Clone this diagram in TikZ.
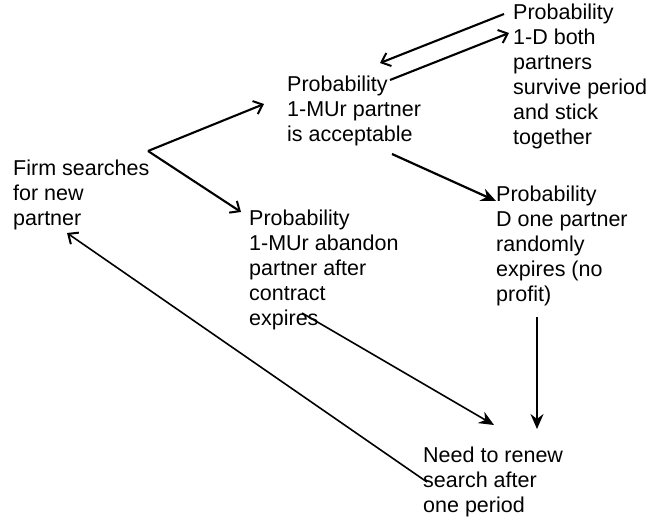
\documentclass[tikz,border=0pt]{standalone}
\usepackage{fontspec}
\setmainfont{Liberation Sans}
\usetikzlibrary{arrows.meta}
\begin{document}
\begin{tikzpicture}[x=1pt,y=-1pt,
  lbl/.style={anchor=north west,inner sep=0pt,align=left,font=\fontsize{21.5}{25}\selectfont},
  barb/.style={line width=2.1pt,-{Straight Barb[length=8pt,width=14pt,line width=2pt]}},
  thinbarb/.style={line width=1.6pt,-{Straight Barb[length=8pt,width=14pt,line width=2pt]}},
  solid/.style={line width=2.2pt,-{Stealth[length=15pt,width=13pt,inset=5pt]}},
  thinsolid/.style={line width=1.6pt,-{Stealth[length=15pt,width=13pt,inset=5pt]}}]
\useasboundingbox (0,0) rectangle (648,522);
\node[lbl] (firm) at (13,160) {Firm searches\\for new\\partner};
\node[lbl] (acc) at (287,76) {Probability\\1-MUr partner\\is acceptable};
\node[lbl] (both) at (513,4) {Probability\\1-D both\\partners\\survive period\\and stick\\together};
\node[lbl] (one) at (496,186) {Probability\\D one partner\\randomly\\expires (no\\profit)};
\node[lbl] (aban) at (249,210) {Probability\\1-MUr abandon\\partner after\\contract\\expires};
\node[lbl] (need) at (423,447) {Need to renew\\search after\\one period};
% connector end points
\coordinate (fork) at (148,151);
\coordinate (accin) at (264,104);
\coordinate (abanin) at (241,212);
\coordinate (bothout) at (504,14);
\coordinate (accback) at (380,63);
\coordinate (accout) at (390,80);
\coordinate (bothin) at (509,33);
\coordinate (accdown) at (392,154);
\coordinate (onein) at (496,201);
\coordinate (oneout) at (537,317);
\coordinate (needtop) at (537,429);
\coordinate (abanout) at (302,313);
\coordinate (needin) at (494,425);
\coordinate (needout) at (427,482);
\coordinate (firmin) at (67,233);
\draw[barb] (fork) -- (accin);
\draw[barb] (fork) -- (abanin);
\draw[barb] (bothout) -- (accback);
\draw[barb] (accout) -- (bothin);
\draw[solid] (accdown) -- (onein);
\draw[solid] (oneout) -- (needtop);
\draw[thinsolid] (abanout) -- (needin);
\draw[thinbarb] (needout) -- (firmin);
\end{tikzpicture}
\end{document}
